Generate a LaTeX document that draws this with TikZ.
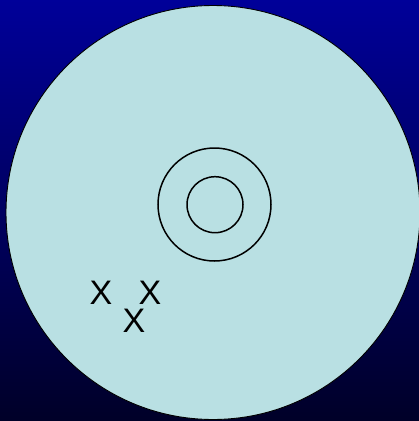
\documentclass[tikz,border=0pt]{standalone}
\usepackage{fontspec}
\setmainfont{Liberation Sans}
\definecolor{disc}{RGB}{185,224,227}
\definecolor{bgtop}{RGB}{0,0,153}
\definecolor{bgbot}{RGB}{0,0,40}
\tikzset{
  mark x/.style={font=\fontsize{34}{34}\selectfont, text=black, inner sep=0pt},
  ring/.style={draw=black, line width=1.5pt}
}
\begin{document}
\begin{tikzpicture}[x=1pt,y=-1pt]
\shade[top color=bgtop, bottom color=bgbot] (0,0) rectangle (419,421);
\useasboundingbox (0,0) rectangle (419,421);
\draw[fill=disc, draw=black, line width=0.9pt] (213,212.5) circle [radius=207];
\draw[ring] (214.5,204.5) circle [radius=56.5];
\draw[ring] (215,204.7) circle [radius=28];
\node[mark x] (x1) at (101,292.5) {X};
\node[mark x] (x2) at (150,292.5) {X};
\node[mark x] (x3) at (134,321) {X};
\end{tikzpicture}
\end{document}
